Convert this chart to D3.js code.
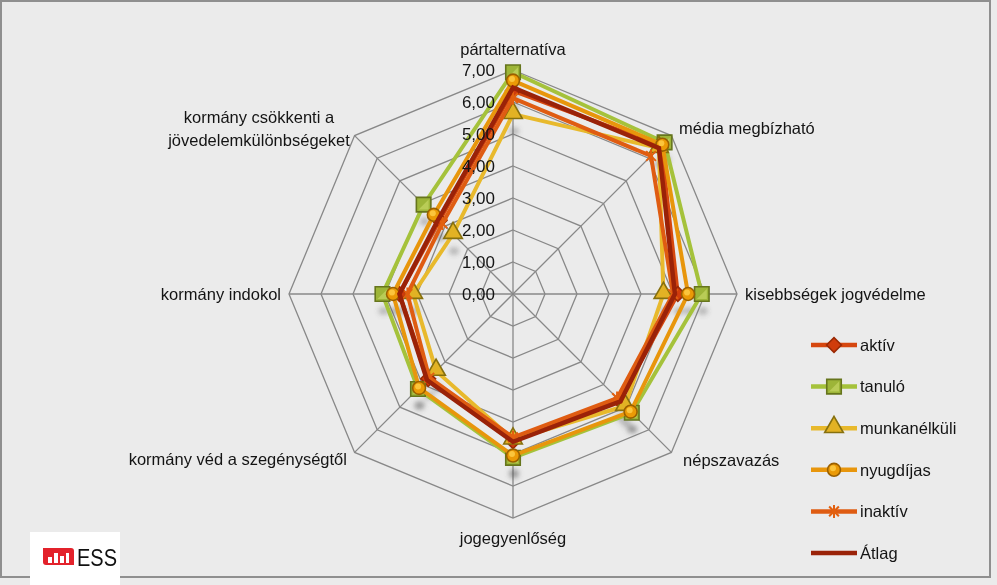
<!DOCTYPE html>
<html>
<head>
<meta charset="utf-8">
<script src="https://cdn.jsdelivr.net/npm/d3@7"></script>
<style>
html,body{margin:0;padding:0;background:#ebebeb;}
svg{display:block;font-family:"Liberation Sans",Arial,sans-serif;}
</style>
</head>
<body>
<svg id="chart" width="997" height="585"></svg>
<script>
// ---- data ----
const categories = [
  "pártalternatíva",
  "média megbízható",
  "kisebbségek jogvédelme",
  "népszavazás",
  "jogegyenlőség",
  "kormány véd a szegénységtől",
  "kormány indokol",
  "kormány csökkenti a jövedelemkülönbségeket"
];
const seriesNames = ["aktív","tanuló","munkanélküli","nyugdíjas","inaktív","Átlag"];
const aktiv        = [6.35, 6.55, 5.15, 4.70, 4.60, 3.75, 3.55, 3.25];
const tanulo       = [6.93, 6.70, 5.90, 5.25, 5.12, 4.20, 4.08, 3.95];
const munkanelkuli = [5.62, 6.45, 4.70, 4.95, 4.55, 3.40, 3.12, 2.65];
const nyugdijas    = [6.67, 6.60, 5.47, 5.20, 5.05, 4.15, 3.75, 3.50];
const inaktiv      = [6.12, 6.10, 5.00, 4.60, 4.48, 3.70, 3.30, 3.12];
const atlag        = [6.45, 6.45, 5.06, 4.75, 4.62, 3.80, 3.55, 3.30];
const tickValues = [0,1,2,3,4,5,6,7];
const tickLabels = ["0,00","1,00","2,00","3,00","4,00","5,00","6,00","7,00"];

const seriesValues = [aktiv, tanulo, munkanelkuli, nyugdijas, inaktiv, atlag];
const styles = [
  {line:"#d6470f", fill:"#d03c0c", stroke:"#9a2a05", marker:"diamond"},
  {line:"#a5c23b", fill:"#9db538", stroke:"#66751c", marker:"square"},
  {line:"#e8b92c", fill:"#e2b224", stroke:"#86700e", marker:"triangle"},
  {line:"#e8960c", fill:"#eb9a06", stroke:"#9a6000", marker:"circle"},
  {line:"#df5c12", fill:"#e2600f", stroke:"#e2600f", marker:"star"},
  {line:"#9a2208", fill:"none", stroke:"none", marker:"none"}
];

// ---- layout ----
const svg = d3.select("#chart");
const W = 997, H = 585;
const cx = 513, cy = 294, R = 224;
const r = d3.scaleLinear().domain([0,7]).range([0,R]);
const ang = d3.scaleLinear().domain([0, categories.length]).range([0, 2*Math.PI]);
const px = (i,v) => cx + r(v)*Math.sin(ang(i));
const py = (i,v) => cy - r(v)*Math.cos(ang(i));

const defs = svg.append("defs");
const blur = defs.append("filter").attr("id","sh").attr("x","-100%").attr("y","-100%").attr("width","300%").attr("height","300%");
blur.append("feGaussianBlur").attr("stdDeviation",2.6);

// background + frame
svg.append("rect").attr("x",0).attr("y",0).attr("width",W).attr("height",H).attr("fill","#ebebeb");
svg.append("rect").attr("x",1).attr("y",1).attr("width",989).attr("height",576)
  .attr("fill","#ebebeb").attr("stroke","#8f8f8f").attr("stroke-width",2);

// grid
const g = svg.append("g");
const idx = d3.range(categories.length);
tickValues.slice(1).forEach(t => {
  const pts = idx.map(i => [px(i,t), py(i,t)]);
  g.append("path").attr("d", d3.line().curve(d3.curveLinearClosed)(pts))
    .attr("fill","none").attr("stroke","#888").attr("stroke-width",1.3);
});
idx.forEach(i => {
  g.append("line").attr("x1",px(i,0)).attr("y1",py(i,0)).attr("x2",px(i,7)).attr("y2",py(i,7))
    .attr("stroke","#888").attr("stroke-width",1.3);
});

// marker shapes
function markerPath(type){
  if(type==="diamond") return d3.symbol(d3.symbolSquare, 110)();
  if(type==="square") return d3.symbol(d3.symbolSquare, 210)();
  if(type==="triangle") return d3.symbol(d3.symbolTriangle, 150)();
  if(type==="circle") return d3.symbol(d3.symbolCircle, 130)();
  return null;
}
function drawMarker(sel, type, st, x, y){
  if(type==="none") return;
  const grp = sel.append("g").attr("transform",`translate(${x},${y})`);
  if(type==="star"){
    const s = 6.5, q = s*0.75;
    const d = `M0,${-s}L0,${s}M${-q},${-q}L${q},${q}M${-q},${q}L${q},${-q}`;
    grp.append("path").attr("d",d).attr("stroke",st.fill).attr("stroke-width",2).attr("fill","none");
    return;
  }
  const p = grp.append("path").attr("d", markerPath(type))
    .attr("fill", st.fill).attr("stroke", st.stroke).attr("stroke-width",1.6);
  if(type==="diamond") p.attr("transform","rotate(45)");
  if(type==="triangle") p.attr("transform","translate(0,-1)");
  if(type==="circle"){
    grp.append("circle").attr("r",3).attr("cx",-1).attr("cy",-1.5).attr("fill","#ffd04a").attr("opacity",0.8);
  }
  if(type==="square"){
    grp.append("path").attr("d","M-5,5L5,-5L5,5Z").attr("fill","#c4d664").attr("opacity",0.7);
  }
}

// shadows under markers
const shadowG = svg.append("g").attr("filter","url(#sh)");
seriesValues.forEach((vals, s) => {
  if(styles[s].marker==="none" || styles[s].marker==="star") return;
  vals.forEach((v,i) => {
    shadowG.append("ellipse").attr("cx",px(i,v)+1).attr("cy",py(i,v)+17)
      .attr("rx",5).attr("ry",4).attr("fill","#555").attr("opacity",0.35);
  });
});

// series
const lineGen = d3.line().curve(d3.curveLinearClosed);
const seriesG = svg.append("g");
seriesValues.forEach((vals, s) => {
  const st = styles[s];
  const pts = vals.map((v,i) => [px(i,v), py(i,v)]);
  seriesG.append("path").attr("d", lineGen(pts)).attr("fill","none")
    .attr("stroke", st.line).attr("stroke-width", s===5 ? 4.5 : 4).attr("stroke-linejoin","miter");
  pts.forEach(p => drawMarker(seriesG, st.marker, st, p[0], p[1]));
});

// tick labels
const tickG = svg.append("g");
tickValues.forEach((t,k) => {
  tickG.append("text").attr("x", cx - 18).attr("y", py(0,t)).attr("dy","0.35em")
    .attr("text-anchor","end").attr("font-size",17).attr("fill","#141414").text(tickLabels[k]);
});

// category labels
const labG = svg.append("g").attr("font-size",16.5).attr("fill","#141414");
const labelR = d3.scaleLinear().domain([0,1]).range([R, R+8]);
idx.forEach(i => {
  const a = ang(i);
  const s = Math.sin(a), c = Math.cos(a);
  let x = cx + labelR(1)*s, y = cy - labelR(1)*c;
  let anchor = Math.abs(s)<0.01 ? "middle" : (s>0 ? "start" : "end");
  const t = labG.append("text").attr("text-anchor", anchor);
  if(i===0){ t.attr("x",x).attr("y",y-7); }
  else if(i===4){ t.attr("x",x).attr("y",y+18); }
  else if(i===1){ t.attr("x",x+2).attr("y",y-2).attr("dy","0.35em"); }
  else if(i===3){ t.attr("x",x+6).attr("y",y+2).attr("dy","0.35em"); }
  else if(i===5){ t.attr("x",x-2).attr("y",y+1).attr("dy","0.35em"); }
  else if(i===2 || i===6){ t.attr("x",x).attr("y",y).attr("dy","0.35em"); }
  if(i===7){
    const cxl = x - 90;
    t.attr("text-anchor","middle");
    t.append("tspan").attr("x",cxl).attr("y",y-7).text("kormány csökkenti a");
    t.append("tspan").attr("x",cxl).attr("y",y+16).text("jövedelemkülönbségeket");
  } else {
    t.text(categories[i]);
  }
});

// legend
const legY = d3.scalePoint().domain(seriesNames).range([345, 553]);
const legG = svg.append("g");
seriesNames.forEach((n,s) => {
  const st = styles[s], y = legY(n);
  legG.append("line").attr("x1",811).attr("x2",857).attr("y1",y).attr("y2",y)
    .attr("stroke",st.line).attr("stroke-width",4.5);
  drawMarker(legG, st.marker, st, 834, y);
  legG.append("text").attr("x",860).attr("y",y).attr("dy","0.35em").attr("font-size",16.5)
    .attr("fill","#141414").text(n);
});

// ESS logo
const logo = svg.append("g");
logo.append("rect").attr("x",30).attr("y",532).attr("width",90).attr("height",53).attr("fill","#ffffff");
logo.append("path").attr("d","M43,548 h28 a3,3 0 0 1 3,3 v14 h-28 a3,3 0 0 1 -3,-3 Z").attr("fill","#e3222b");
[[48,557,4,6],[54,553,4,10],[60,556,4,7],[66,553,3,10]].forEach(b=>{
  logo.append("rect").attr("x",b[0]).attr("y",b[1]).attr("width",b[2]).attr("height",b[3]).attr("fill","#ffffff");
});
logo.append("text").attr("x",77).attr("y",566).attr("font-size",24)
  .attr("font-family","'Liberation Sans',Arial,sans-serif")
  .attr("textLength",40).attr("lengthAdjust","spacingAndGlyphs")
  .attr("fill","#111").text("ESS");
</script>
</body>
</html>
